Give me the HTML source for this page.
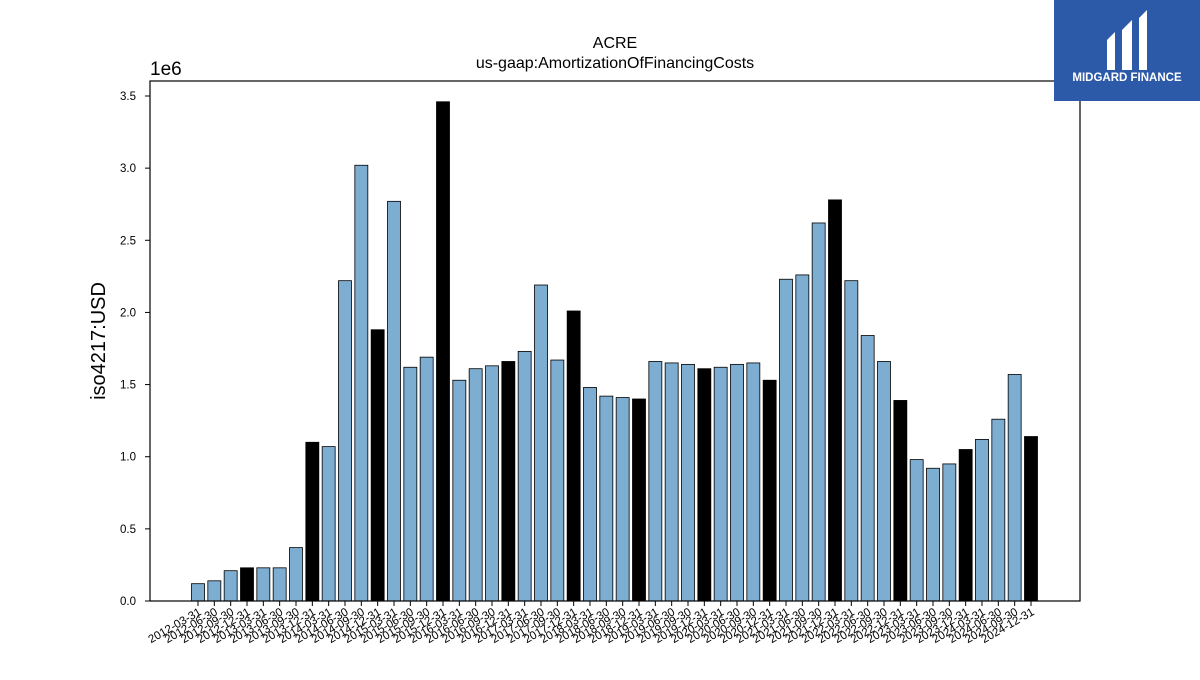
<!DOCTYPE html>
<html><head><meta charset="utf-8"><style>
body{margin:0;background:#fff;width:1200px;height:675px;overflow:hidden;font-family:"Liberation Sans","DejaVu Sans",sans-serif}
</style></head><body>
<svg id="c" width="1200" height="675" xmlns="http://www.w3.org/2000/svg">
<text x="615" y="48" text-anchor="middle" font-size="16">ACRE</text>
<text x="615" y="68" text-anchor="middle" font-size="16">us-gaap:AmortizationOfFinancingCosts</text>
<text x="150" y="75" font-size="19">1e6</text>
<text transform="translate(105,341) rotate(-90)" text-anchor="middle" font-size="20">iso4217:USD</text>
<g id="bars"></g>
<g id="yt"></g>
<g id="xt"></g>
<rect x="150" y="81" width="930" height="520" fill="none" stroke="#000" stroke-width="1.2"/>
<g>
<rect x="1054" y="0" width="146" height="101" fill="#2d5aa8"/>
<path d="M1107 40 L1115 32 L1115 70 L1107 70 Z M1122 30 L1132 20 L1132 70 L1122 70 Z M1139 18 L1147 10 L1147 70 L1139 70 Z" fill="#fff"/>
<text x="1127" y="81" text-anchor="middle" font-size="11.5" font-weight="bold" fill="#fff">MIDGARD FINANCE</text>
</g>
</svg>
<script>
const categories=[];
for(let y=2012;y<=2024;y++){for(const q of ["03-31","06-30","09-30","12-31"])categories.push(y+"-"+q);}
const values=[0.12,0.14,0.21,0.23,0.23,0.23,0.37,1.10,1.07,2.22,3.02,1.88,2.77,1.62,1.69,3.46,1.53,1.61,1.63,1.66,1.73,2.19,1.67,2.01,1.48,1.42,1.41,1.40,1.66,1.65,1.64,1.61,1.62,1.64,1.65,1.53,2.23,2.26,2.62,2.78,2.22,1.84,1.66,1.39,0.98,0.92,0.95,1.05,1.12,1.26,1.57,1.14];
const yTicks=[0,0.5,1.0,1.5,2.0,2.5,3.0,3.5];
const NS="http://www.w3.org/2000/svg";
const y0=601,pxPer=(601-96)/3.5;
const yScale=v=>y0-v*pxPer;
const xScale=i=>198+i*(1031-198)/(categories.length-1);
const bw=13;
function mk(t,a,p){const e=document.createElementNS(NS,t);for(const k in a)e.setAttribute(k,a[k]);p.appendChild(e);return e;}
const bars=document.getElementById('bars'),yt=document.getElementById('yt'),xt=document.getElementById('xt');
values.forEach((v,i)=>{
 const r=mk('rect',{x:xScale(i)-bw/2,y:yScale(v),width:bw,height:v*pxPer,fill:categories[i].endsWith("12-31")?"#000":"#7eadd2",stroke:"#000","stroke-width":0.8},bars);
 
 
 mk('line',{x1:xScale(i),x2:xScale(i),y1:601,y2:606,stroke:"#000"},xt);
 const t=mk('text',{x:0,y:0,"font-size":11.5,"text-anchor":"end",transform:`translate(${xScale(i)+4},${614}) rotate(-30)`},xt);
 t.textContent=categories[i];
 
 
});
yTicks.forEach(v=>{
 const y=yScale(v);
 mk('line',{x1:145,x2:150,y1:y,y2:y,stroke:"#000"},yt);
 const t=mk('text',{x:136,y:y+4,"font-size":11.5,"text-anchor":"end"},yt);
 t.textContent=v.toFixed(1);
 
 
});
</script>
</body></html>
